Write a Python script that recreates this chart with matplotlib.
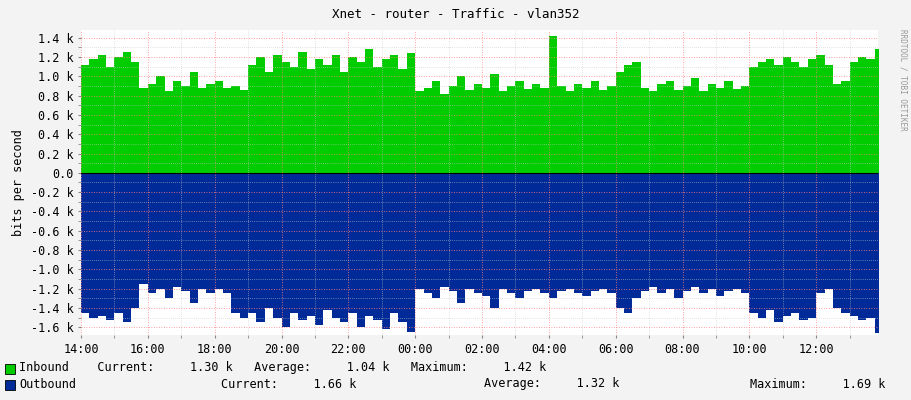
import matplotlib
matplotlib.use("Agg")
import matplotlib.pyplot as plt
import numpy as np

# 15-minute samples starting 14:00 (values in k bits/s)
inbound = [1.12,1.18,1.22,1.10,1.20,1.25,
           1.15,0.88,0.92,1.00,0.85,0.95,0.90,1.05,0.88,0.92,
           0.95,0.88,0.90,0.86,
           1.12,1.20,1.05,1.22,1.15,1.10,1.25,1.08,1.18,1.12,1.22,1.05,1.20,1.15,1.28,1.10,1.18,1.22,1.08,1.24,
           0.85,0.88,0.95,0.82,0.90,1.00,0.86,0.92,0.88,1.02,0.85,0.90,0.95,0.87,0.92,0.88,
           1.42,0.90,0.85,0.92,0.88,0.95,0.86,0.90,
           1.05,1.12,1.15,
           0.88,0.85,0.92,0.95,0.86,0.90,0.98,0.85,0.92,0.88,0.95,0.87,0.90,
           1.10,1.15,1.18,1.12,1.20,1.15,1.10,1.18,1.22,1.12,
           0.92,0.95,
           1.15,1.20,1.18,1.28]
outbound = [1.45,1.50,1.48,1.52,1.45,1.55,
            1.40,1.15,1.25,1.20,1.30,1.18,1.22,1.35,1.20,1.25,
            1.20,1.25,1.45,1.50,
            1.45,1.55,1.40,1.50,1.60,1.45,1.52,1.48,1.58,1.42,1.50,1.55,1.45,1.60,1.48,1.52,1.62,1.45,1.55,1.65,
            1.20,1.25,1.30,1.18,1.22,1.35,1.20,1.25,1.28,1.40,1.20,1.25,1.30,1.22,1.20,1.25,
            1.30,1.22,1.20,1.25,1.28,1.22,1.20,1.25,
            1.40,1.45,1.30,
            1.22,1.18,1.25,1.20,1.30,1.22,1.18,1.25,1.20,1.28,1.22,1.20,1.25,
            1.45,1.50,1.42,1.55,1.48,1.45,1.52,1.50,1.25,1.20,
            1.40,1.45,
            1.48,1.52,1.50,1.66]
tick_labels = ["14:00","16:00","18:00","20:00","22:00","00:00","02:00",
               "04:00","06:00","08:00","10:00","12:00"]

mono = "DejaVu Sans Mono"
plt.rcParams['font.family'] = mono
plt.rcParams['font.size'] = 8

fig = plt.figure(figsize=(9.11, 4.0), dpi=100, facecolor="#F3F3F3")
ax = fig.add_axes([81/911, 65/400, 797/911, 305/400])
ax.set_facecolor("white")

x = np.arange(len(inbound) + 1) * 0.25
inb = np.array(inbound + [inbound[-1]])
outb = -np.array(outbound + [outbound[-1]])
ax.fill_between(x, 0, inb, step="post", color="#00CC00", lw=0, zorder=2)
ax.fill_between(x, 0, outb, step="post", color="#002A97", lw=0, zorder=2)

ax.set_xlim(0, 23.85)
ax.set_ylim(-1.68, 1.48)
ax.set_xticks(np.arange(0, 24, 2))
ax.set_xticklabels(tick_labels)
ax.set_xticks(np.arange(0, 24, 1), minor=True)
yt = np.round(np.arange(-1.6, 1.41, 0.2), 1)
ax.set_yticks(yt)
ax.set_yticklabels([("0.0" if abs(v) < 1e-9 else f"{v:.1f} k") for v in yt])
ax.set_yticks(np.arange(-1.6, 1.45, 0.1), minor=True)
ax.grid(True, which="major", color="#FF8080", ls=(0, (1, 2)), lw=0.6, zorder=3)
ax.grid(True, which="minor", color="#C8C8C8", ls=(0, (1, 2)), lw=0.5, zorder=3)
ax.set_axisbelow(False)
ax.tick_params(which="both", length=2, color="#888888", labelsize=8.5)
for s in ax.spines.values():
    s.set_visible(False)
ax.axhline(0, color="black", lw=0.8, zorder=4)
ax.set_ylabel("bits per second", fontsize=8.5)

fig.text(0.5, 1 - 14/400, "Xnet - router - Traffic - vlan352", ha="center", va="center", fontsize=9)
fig.text(903/911, 0.80, "RRDTOOL / TOBI OETIKER", rotation=270, ha="center", va="center",
         fontsize=5.5, color="#999999")

fig.patches.append(plt.Rectangle((5/911, 1-374/400), 10/911, 10/400, transform=fig.transFigure,
                                 facecolor="#00CC00", edgecolor="black", lw=0.6))
fig.patches.append(plt.Rectangle((5/911, 1-390/400), 10/911, 10/400, transform=fig.transFigure,
                                 facecolor="#002A97", edgecolor="black", lw=0.6))
fig.text(19/911, 1-368/400, "Inbound    Current:     1.30 k   Average:     1.04 k   Maximum:     1.42 k",
         va="center", fontsize=8.5)
fig.text(19/911, 1-384/400, "Outbound", va="center", fontsize=8.5)
fig.text(221/911, 1-384/400, "Current:     1.66 k", va="center", fontsize=8.5)
fig.text(484/911, 1-384/400, "Average:     1.32 k", va="center", fontsize=8.5)
fig.text(750/911, 1-384/400, "Maximum:     1.69 k", va="center", fontsize=8.5)

fig.savefig("out.png", dpi=100, facecolor=fig.get_facecolor())
